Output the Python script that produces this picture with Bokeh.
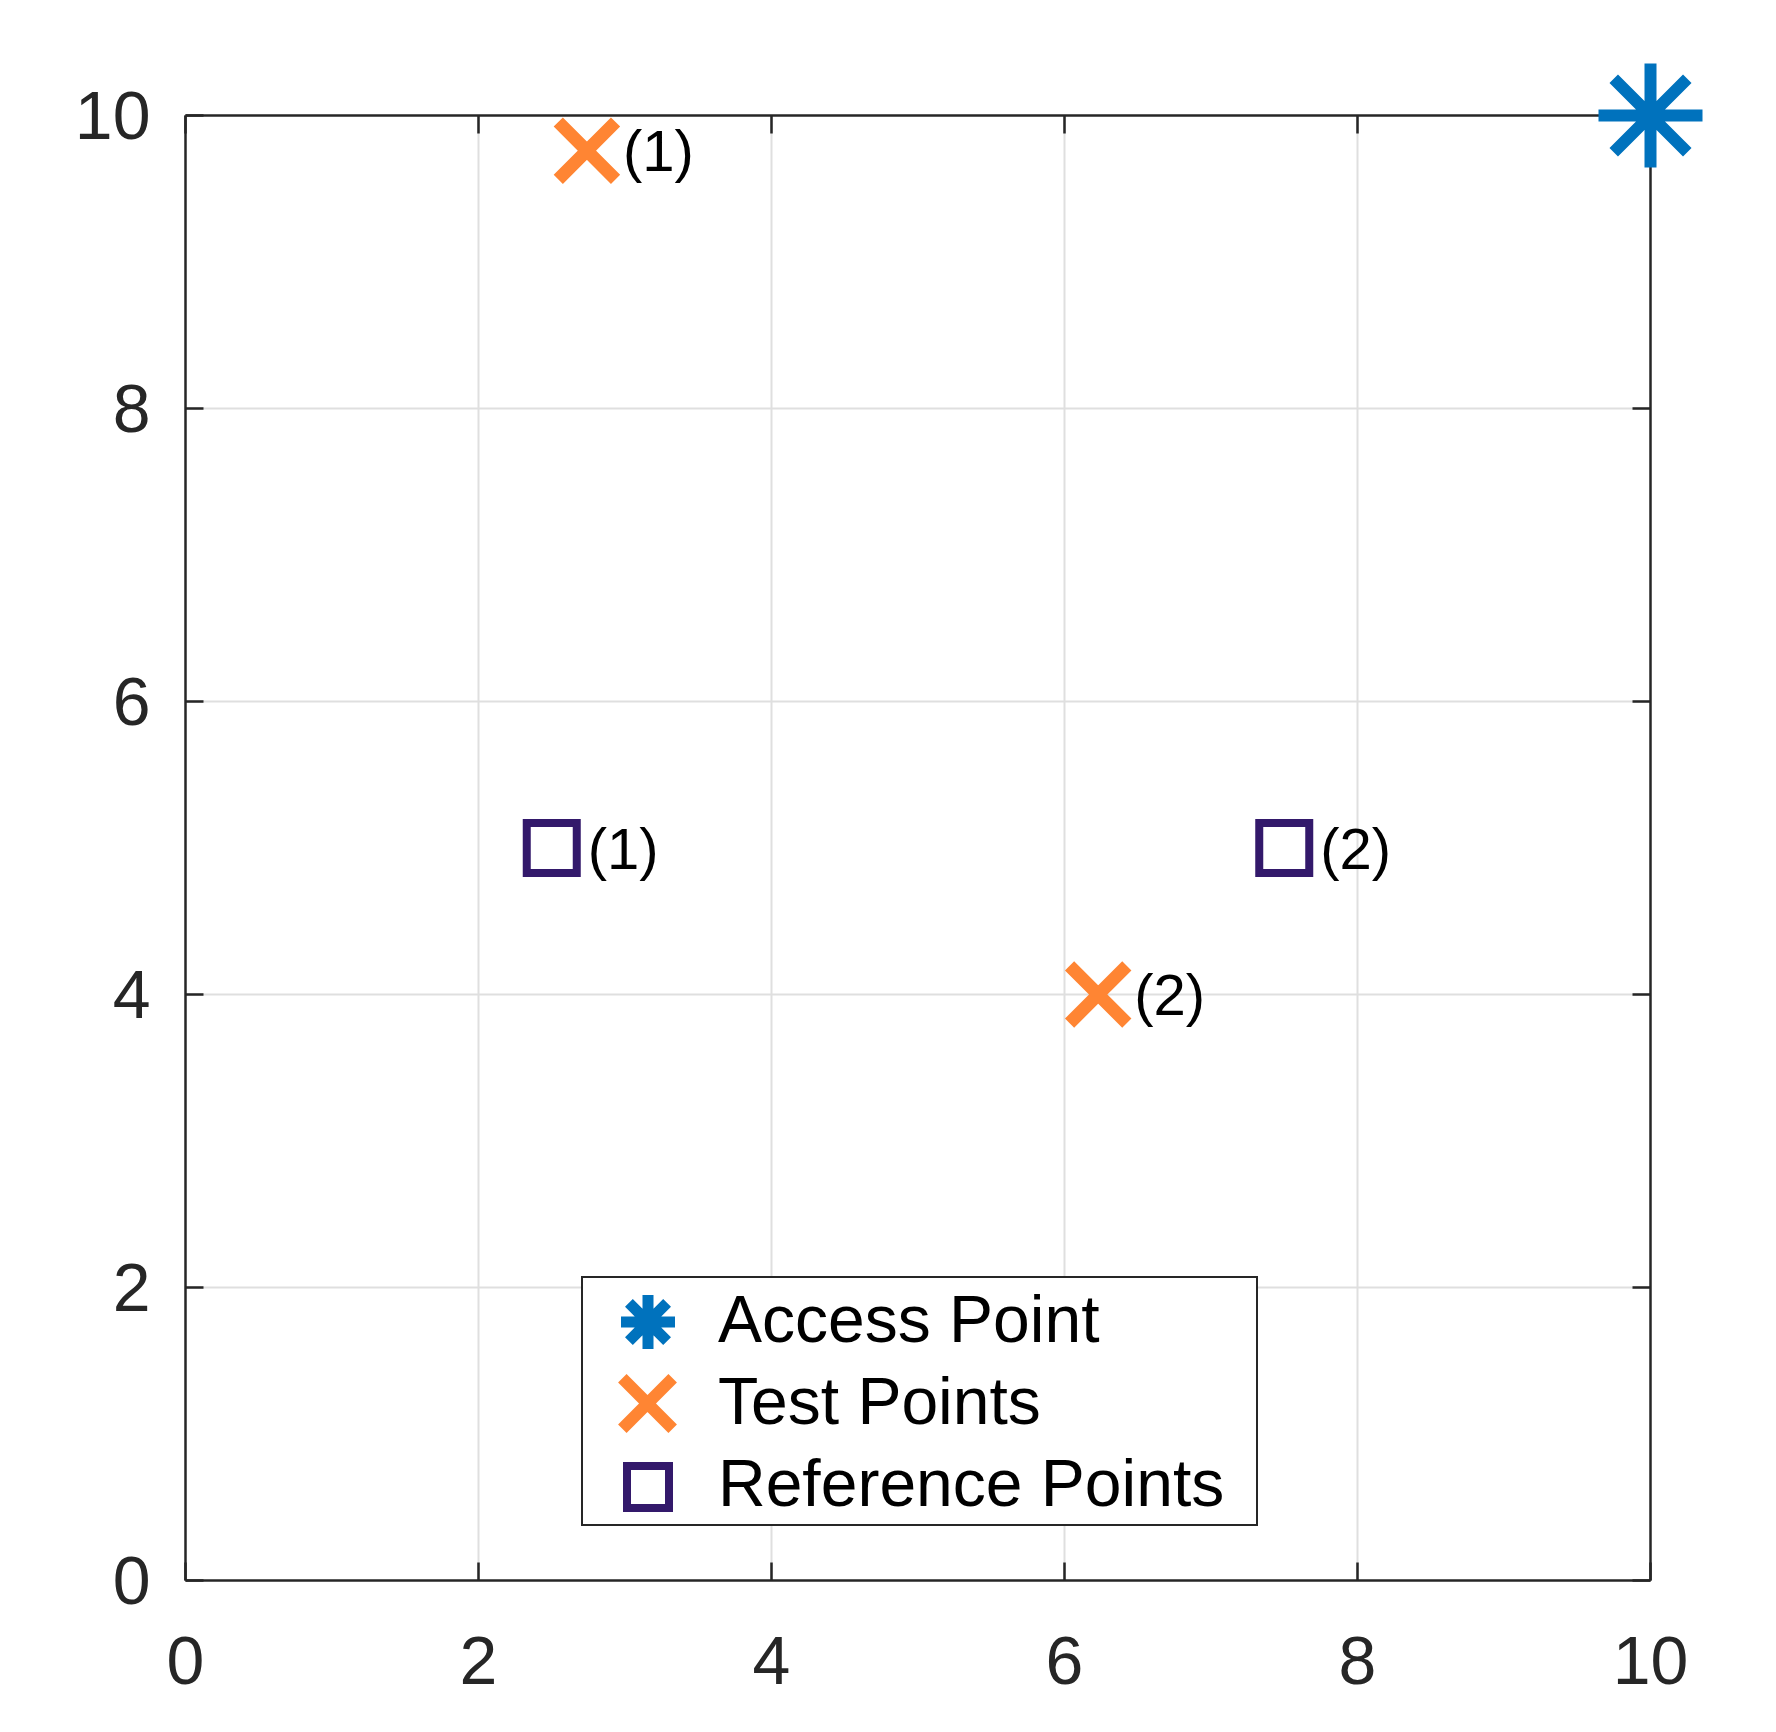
from bokeh.plotting import figure
from bokeh.models import LinearAxis, Legend, LegendItem, FixedTicker, Range1d
from bokeh.embed import file_html
from bokeh.resources import INLINE
from bokeh.core.properties import value

# ---- data ----
ap_x = [10.0]
ap_y = [10.0]
test_x = [2.74, 6.23]
test_y = [9.76, 4.0]
test_labels = ["(1)", "(2)"]
ref_x = [2.5, 7.5]
ref_y = [5.0, 5.0]
ref_labels = ["(1)", "(2)"]
ticks = [0, 2, 4, 6, 8, 10]
legend_labels = ["Access Point", "Test Points", "Reference Points"]

FONT = "Liberation Sans"
AX = "#262626"
C_AP = "#0072BD"
C_TEST = "#FF8533"
C_REF = "#33196B"
W, H = 1756, 1712

p = figure(width=W, height=H, x_range=Range1d(0, 10), y_range=Range1d(0, 10),
           output_backend="svg", toolbar_location=None,
           min_border_left=185, min_border_top=115,
           min_border_right=W - 1650, min_border_bottom=H - 1580)
p.outline_line_color = None
p.background_fill_color = "white"
p.border_fill_color = "white"

for ax in [p.xaxis[0], p.yaxis[0]]:
    ax.ticker = FixedTicker(ticks=ticks)
    ax.axis_line_color = AX
    ax.axis_line_width = 2.5
    ax.major_tick_line_color = AX
    ax.major_tick_line_width = 2.5
    ax.major_tick_in = 18
    ax.major_tick_out = 0
    ax.minor_tick_line_color = None
    ax.major_label_text_font = FONT
    ax.major_label_text_font_size = "68px"
    ax.major_label_text_color = AX
p.xaxis[0].major_label_standoff = 56
p.yaxis[0].major_label_standoff = 35

for loc in ["above", "right"]:
    ax = LinearAxis(ticker=FixedTicker(ticks=ticks),
                    major_label_overrides={t: "" for t in ticks},
                    major_label_text_font_size="1px", major_label_standoff=0,
                    axis_line_color=AX, axis_line_width=2.5,
                    major_tick_line_color=AX, major_tick_line_width=2.5,
                    major_tick_in=18, major_tick_out=0, minor_tick_line_color=None)
    p.add_layout(ax, loc)

for g in [p.xgrid[0], p.ygrid[0]]:
    g.ticker = FixedTicker(ticks=ticks)
    g.grid_line_color = "#dfdfdf"
    g.grid_line_width = 2

p.scatter(ap_x, ap_y, marker="asterisk", size=104, line_color=C_AP,
          line_width=12, level="overlay")
p.scatter(test_x, test_y, marker="x", size=81, line_color=C_TEST, line_width=13)
p.scatter(ref_x, ref_y, marker="square", size=50, line_color=C_REF,
          fill_color=None, line_width=8, line_join="miter")

p.text(test_x, test_y, text=test_labels, x_offset=36, text_baseline="middle",
       text_align="left", text_font=value(FONT), text_font_size="58px", text_color="black")
p.text(ref_x, ref_y, text=ref_labels, x_offset=36, text_baseline="middle",
       text_align="left", text_font=value(FONT), text_font_size="58px", text_color="black")

# hidden legend-only copies
lg_blank = p.scatter(ap_x, ap_y, marker="asterisk", line_alpha=0, fill_alpha=0,
                     visible=False)
lg_ap = p.scatter(ap_x, ap_y, marker="asterisk", line_color=C_AP, line_width=11,
                  visible=False)
lg_test = p.scatter(test_x, test_y, marker="x", line_color=C_TEST, line_width=12,
                    visible=False)
lg_ref = p.scatter(ref_x, ref_y, marker="square", line_color=C_REF, fill_color=None,
                   line_width=8, line_join="miter", visible=False)

# framed legend with the labels
legend = Legend(items=[LegendItem(label=t, renderers=[lg_blank]) for t in legend_labels],
                location=(396, 54), padding=0, spacing=0, glyph_height=82,
                glyph_width=132, label_standoff=3, label_width=538, label_text_font=FONT,
                label_text_font_size="66px", label_text_color="black",
                border_line_color=AX, border_line_width=2.5, border_line_alpha=1.0,
                background_fill_color="white", background_fill_alpha=1.0,
                margin=0)
p.add_layout(legend, "center")

# larger legend glyphs, one per row (glyph box size sets the marker size)
glyph_specs = [(lg_ap, 135, 259), (lg_test, 178, 177), (lg_ref, 105, 94)]
for rend, gsz, yc in glyph_specs:
    gl = Legend(items=[LegendItem(label="", renderers=[rend])],
                location=(462 - gsz / 2, yc - gsz / 2), padding=0, spacing=0,
                glyph_height=gsz, glyph_width=gsz, label_standoff=0,
                label_text_font_size="1px", label_height=1, label_width=1,
                border_line_color=None, background_fill_alpha=0.0, margin=0)
    p.add_layout(gl, "center")

open("out.html", "w").write(file_html(p, INLINE))
